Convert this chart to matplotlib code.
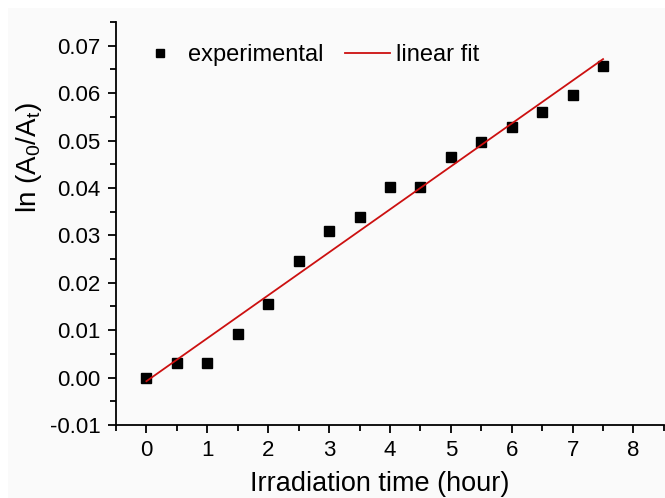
import numpy as np
import matplotlib
matplotlib.use('Agg')
import matplotlib.pyplot as plt
from matplotlib.ticker import MultipleLocator
from matplotlib.patches import Rectangle

plt.rcParams['font.family'] = ['Liberation Sans', 'DejaVu Sans']

# data
time_h = [0, 0.5, 1, 1.5, 2, 2.5, 3, 3.5, 4, 4.5, 5, 5.5, 6, 6.5, 7, 7.5]
ln_ratio = [0.0000, 0.0031, 0.0031, 0.0092, 0.0155, 0.0246, 0.0309, 0.0338,
            0.0403, 0.0403, 0.0466, 0.0496, 0.0529, 0.0561, 0.0595, 0.0658]

# linear fit
slope, intercept = np.polyfit(time_h, ln_ratio, 1)
fit_x = np.array([time_h[0], time_h[-1]])
fit_y = slope * fit_x + intercept

bg = '#fafafa'
fig = plt.figure(figsize=(6.65, 4.98), dpi=100, facecolor='white')
fig.patches.append(Rectangle((8 / 665, 0), 1, 1 - 8 / 498, transform=fig.transFigure,
                             facecolor=bg, edgecolor='none', zorder=-10))
ax = fig.add_axes([0.1744, 0.1466, 0.824, 0.8092])
ax.set_facecolor(bg)

ax.plot(time_h, ln_ratio, 's', color='black', markersize=7.5, label='experimental')
ax.plot(fit_x, fit_y, '-', color='#cc1010', linewidth=1.3, label='linear fit')

ax.set_xlim(-0.5, 8.5)
ax.set_ylim(-0.01, 0.075)
ax.xaxis.set_major_locator(MultipleLocator(1))
ax.xaxis.set_minor_locator(MultipleLocator(0.5))
ax.yaxis.set_major_locator(MultipleLocator(0.01))
ax.yaxis.set_minor_locator(MultipleLocator(0.005))
ax.yaxis.set_major_formatter(plt.FormatStrFormatter('%.2f'))

for s in ['top', 'right']:
    ax.spines[s].set_visible(False)
for s in ['left', 'bottom']:
    ax.spines[s].set_linewidth(1.3)
ax.tick_params(which='major', direction='out', length=6, width=1.3, labelsize=16, pad=5)
ax.tick_params(which='minor', direction='out', length=4, width=1.3)

ax.set_xlabel('Irradiation time (hour)', fontsize=19.5, labelpad=7)
ax.set_ylabel(r'ln (A$_\mathregular{0}$/A$_\mathregular{t}$)', fontsize=20, labelpad=4)
ax.xaxis.label.set_x(0.482)
ax.yaxis.label.set_y(0.665)

ax.legend(loc='upper left', bbox_to_anchor=(0.0, 0.997), ncol=2, frameon=False,
          fontsize=17, handlelength=1.9, columnspacing=0.9, handletextpad=0.25,
          markerscale=0.7)

fig.savefig('out.png', dpi=100, facecolor=fig.get_facecolor())
